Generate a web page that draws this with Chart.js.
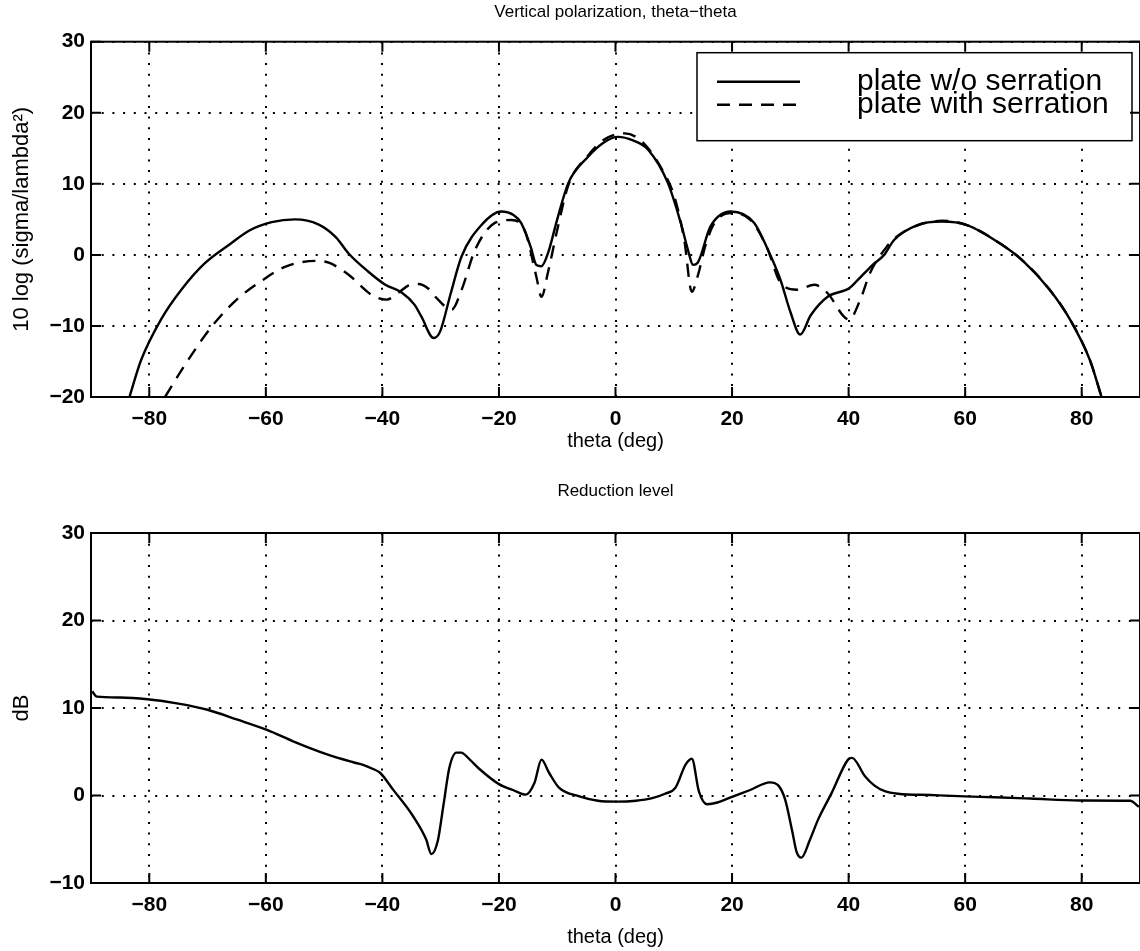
<!DOCTYPE html>
<html>
<head>
<meta charset="utf-8">
<title>Vertical polarization, theta-theta</title>
<script src="https://cdn.jsdelivr.net/npm/chart.js@4.4.1/dist/chart.umd.min.js"></script>
<style>
    html, body { margin: 0; padding: 0; background: #fff; overflow: hidden; }
    #top_box { position: absolute; left: 0; top: 0; width: 1140px; height: 476px; }
    #bottom_box { position: absolute; left: 0; top: 476px; width: 1140px; height: 475px; }
</style>
</head>
<body>
<div id="top_box"><canvas id="rcs_chart"></canvas></div>
<div id="bottom_box"><canvas id="reduction_chart"></canvas></div>
<script>
// values (theta in degrees)
var thetaPlain = [-83.4, -81.4, -78, -74.5, -70.5, -66, -62.9, -59, -55, -51, -48, -45.8, -42.5, -39.5, -36.7, -34.5, -33.3, -31.2, -30.1, -28.3, -26.4, -23, -19.6, -17.5, -16.2, -14.5, -13.6, -12.7, -11.6, -10, -8.1, -4.7, -2, 0.4, 3, 5.6, 9, 11.2, 12.5, 13.3, 14.1, 16.3, 19.8, 23.8, 26, 28.3, 30, 31.7, 33.5, 36.4, 40.1, 41.5, 44, 46.1, 47.8, 51.8, 56, 60.3, 66, 70, 74.5, 78, 81.4, 83.4];
var rcsPlain = [-20, -14.8, -9.1, -4.9, -1.2, 1.6, 3.4, 4.6, 5.0, 4.3, 2.5, 0.2, -2.3, -4.2, -5.3, -7.0, -8.7, -11.7, -10.8, -5.5, -0.2, 4.2, 6.1, 5.6, 4.5, 1.0, -1.4, -1.6, 0.2, 5, 10.1, 13.8, 15.8, 16.6, 16.1, 14.8, 10.1, 4.5, 0.5, -1.4, -1.1, 4.0, 6.1, 4.5, 1.0, -3.5, -8, -11.2, -8.5, -5.9, -4.7, -3.6, -1.5, 0, 2.1, 4.2, 4.7, 4.2, 1.6, -0.9, -4.9, -9.1, -14.8, -20];

var thetaSerrated = [-77.3, -73.5, -69.2, -65, -60.9, -56.6, -51.5, -49.2, -45.8, -41.9, -39.3, -37.2, -35.5, -33.8, -32.2, -30.9, -28.1, -26.4, -24.1, -20.7, -17.9, -15.5, -13.6, -12.7, -11.6, -10, -8.1, -4.7, -2, 1.6, 3.5, 5.6, 8, 10.1, 11.8, 13.1, 14.1, 15.5, 17, 19.8, 23.2, 26, 28.3, 31.2, 34.1, 36.4, 39.2, 40.1, 42, 43.7, 46.6, 48.3, 52, 56, 60.3, 66, 70, 74.5, 78, 81.4, 83.4];
var rcsSerrated = [-20, -15, -10, -6.3, -3.75, -1.65, -0.85, -1.1, -2.8, -5.6, -6.3, -5.3, -4.3, -4.1, -4.7, -5.9, -7.7, -4.9, 0.7, 4.5, 4.9, 3.3, -3.0, -5.9, -2.5, 3.5, 9.8, 14.0, 16.2, 17.1, 16.6, 15.0, 12, 8.2, 2.1, -5.2, -3.0, 1.5, 4.5, 5.9, 4.9, 1.0, -3.9, -4.9, -4.2, -5.4, -8.7, -9.1, -6.3, -2.5, 1.2, 2.6, 4.2, 4.8, 4.2, 1.6, -0.9, -4.9, -9.1, -14.8, -20];

var thetaReduction = [-89.8, -89, -85, -80.3, -75, -70, -65, -59.8, -55, -49.5, -45, -43.3, -41.5, -40.4, -38.2, -34.7, -32.5, -31.6, -30.5, -29.5, -28.5, -27.3, -26.5, -25, -23.3, -20, -17.5, -15.4, -13.9, -12.7, -11.4, -9.7, -6.2, -3, 0.3, 3.5, 6.3, 8.5, 10.3, 12, 13.1, 14.3, 15.7, 17.5, 20, 23, 26.5, 28, 29.1, 30.3, 31.1, 31.9, 33.4, 34.8, 37.1, 39.9, 40.6, 42.8, 44.5, 46.2, 48.5, 54, 59.9, 65, 71.2, 79.7, 88.3, 89.8];
var reduction = [11.9, 11.3, 11.2, 11.0, 10.5, 9.8, 8.7, 7.5, 6.1, 4.7, 3.8, 3.5, 3.0, 2.6, 0.7, -2.4, -5.0, -6.7, -5.2, -1.0, 3.2, 4.9, 4.9, 4.1, 3.0, 1.3, 0.6, 0.1, 1.45, 4.1, 2.6, 0.9, -0.1, -0.6, -0.7, -0.6, -0.3, 0.2, 0.9, 3.5, 4.2, 0.5, -1.0, -0.8, -0.15, 0.6, 1.5, 1.1, -0.45, -4, -6.5, -7.1, -5, -2.7, 0.3, 4.1, 4.3, 2.2, 1.1, 0.5, 0.2, 0.05, -0.1, -0.2, -0.35, -0.57, -0.6, -1.3];

var xTicks = [-80, -60, -40, -20, 0, 20, 40, 60, 80];
var xTickLabels = ['\u221280', '\u221260', '\u221240', '\u221220', '0', '20', '40', '60', '80'];
var rcsTicks = [-20, -10, 0, 10, 20, 30];
var rcsTickLabels = ['\u221220', '\u221210', '0', '10', '20', '30'];
var dbTicks = [-10, 0, 10, 20, 30];
var dbTickLabels = ['\u221210', '0', '10', '20', '30'];

var FONT = '"Liberation Sans", Arial, Helvetica, sans-serif';

function pairs(xs, ys) {
    var pts = [];
    for (var i = 0; i < xs.length; i++) {
        pts.push({x: xs[i], y: ys[i]});
    }
    return pts;
}

// matlab style box: full frame + inward ticks on all four sides
var matlabFrame = {
    id: 'matlabFrame',
    afterDraw: function (chart) {
        var ctx = chart.ctx, a = chart.chartArea;
        var x = chart.scales.x, y = chart.scales.y;
        var len = 10;
        ctx.save();
        ctx.strokeStyle = '#000';
        ctx.lineWidth = 2;
        ctx.setLineDash([]);
        ctx.strokeRect(a.left, a.top, a.right - a.left, a.bottom - a.top);
        ctx.beginPath();
        x.ticks.forEach(function (t) {
            var px = x.getPixelForValue(t.value);
            ctx.moveTo(px, a.bottom); ctx.lineTo(px, a.bottom - len);
            ctx.moveTo(px, a.top); ctx.lineTo(px, a.top + len);
        });
        y.ticks.forEach(function (t) {
            var py = y.getPixelForValue(t.value);
            ctx.moveTo(a.left, py); ctx.lineTo(a.left + len, py);
            ctx.moveTo(a.right, py); ctx.lineTo(a.right - len, py);
        });
        ctx.stroke();
        ctx.restore();
    }
};

// boxed legend in the upper right corner of the plot
var boxLegend = {
    id: 'boxLegend',
    afterDraw: function (chart, args, opts) {
        if (!opts.display) return;
        var ctx = chart.ctx, a = chart.chartArea;
        var left = a.right - opts.right - opts.width;
        var top = a.top + opts.top;
        ctx.save();
        ctx.fillStyle = '#fff';
        ctx.fillRect(left, top, opts.width, opts.height);
        ctx.strokeStyle = '#000';
        ctx.lineWidth = 1.5;
        ctx.strokeRect(left, top, opts.width, opts.height);
        ctx.font = opts.fontSize + 'px ' + FONT;
        ctx.fillStyle = '#000';
        ctx.textBaseline = 'alphabetic';
        chart.data.datasets.forEach(function (ds, i) {
            var yy = top + opts.firstRow + i * opts.rowGap;
            ctx.lineWidth = ds.borderWidth;
            ctx.setLineDash(ds.borderDash || []);
            ctx.beginPath();
            ctx.moveTo(left + 20, yy);
            ctx.lineTo(left + 103, yy);
            ctx.stroke();
            ctx.setLineDash([]);
            ctx.fillText(ds.label, left + 160, yy + 8);
        });
        ctx.restore();
    }
};

function getAxes(yMin, yMax, yTicks, yLabels, yTitle, xHeight, xTitlePad) {
    return {
        x: {
            type: 'linear',
            min: -90,
            max: 90,
            afterBuildTicks: function (scale) {
                scale.ticks = xTicks.map(function (v) { return {value: v}; });
            },
            afterFit: function (scale) { scale.height = xHeight; },
            grid: { color: '#000', lineWidth: 2, drawTicks: false },
            border: { display: false, dash: [2, 8.7] },
            ticks: {
                color: '#000',
                padding: 10,
                maxRotation: 0,
                font: { family: FONT, size: 21, weight: 'bold' },
                callback: function (value) { return xTickLabels[xTicks.indexOf(value)]; }
            },
            title: {
                display: true,
                text: 'theta (deg)',
                color: '#000',
                font: { family: FONT, size: 20 },
                padding: { top: 0, bottom: xTitlePad }
            }
        },
        y: {
            type: 'linear',
            min: yMin,
            max: yMax,
            afterBuildTicks: function (scale) {
                scale.ticks = yTicks.map(function (v) { return {value: v}; });
            },
            afterFit: function (scale) { scale.width = 91; },
            grid: { color: '#000', lineWidth: 2, drawTicks: false },
            border: { display: false, dash: [2, 8.7] },
            ticks: {
                color: '#000',
                padding: 6,
                font: { family: FONT, size: 21, weight: 'bold' },
                callback: function (value) { return yLabels[yTicks.indexOf(value)]; }
            },
            title: {
                display: true,
                text: yTitle,
                color: '#000',
                font: { family: FONT, size: 22 },
                padding: { top: 9, bottom: 0 }
            }
        }
    };
}

new Chart(document.getElementById('rcs_chart').getContext('2d'), {
    type: 'line',
    data: {
        datasets: [{
            label: 'plate w/o serration',
            data: pairs(thetaPlain, rcsPlain),
            borderColor: '#000',
            borderWidth: 2.4,
            pointRadius: 0,
            fill: false,
            cubicInterpolationMode: 'monotone'
        }, {
            label: 'plate with serration',
            data: pairs(thetaSerrated, rcsSerrated),
            borderColor: '#000',
            borderWidth: 2.4,
            borderDash: [13, 9],
            pointRadius: 0,
            fill: false,
            cubicInterpolationMode: 'monotone'
        }]
    },
    options: {
        responsive: true,
        maintainAspectRatio: false,
        animation: false,
        layout: { padding: 0 },
        scales: getAxes(-20, 30, rcsTicks, rcsTickLabels, '10 log (sigma/lambda\u00b2)', 79, 23),
        plugins: {
            legend: { display: false },
            tooltip: { enabled: false },
            title: {
                display: true,
                fullSize: false,
                text: 'Vertical polarization, theta\u2212theta',
                color: '#000',
                font: { family: FONT, size: 17, weight: 'normal' },
                padding: { top: 1.8, bottom: 19.5 }
            },
            boxLegend: { display: true, right: 8, top: 11, width: 435, height: 88, firstRow: 29, rowGap: 23, fontSize: 30 }
        }
    },
    plugins: [boxLegend, matlabFrame]
});

new Chart(document.getElementById('reduction_chart').getContext('2d'), {
    type: 'line',
    data: {
        datasets: [{
            label: 'Reduction level',
            data: pairs(thetaReduction, reduction),
            borderColor: '#000',
            borderWidth: 2.4,
            pointRadius: 0,
            fill: false,
            cubicInterpolationMode: 'monotone'
        }]
    },
    options: {
        responsive: true,
        maintainAspectRatio: false,
        animation: false,
        layout: { padding: 0 },
        scales: getAxes(-10, 30, dbTicks, dbTickLabels, 'dB', 68, 2),
        plugins: {
            legend: { display: false },
            tooltip: { enabled: false },
            title: {
                display: true,
                fullSize: false,
                text: 'Reduction level',
                color: '#000',
                font: { family: FONT, size: 17, weight: 'normal' },
                padding: { top: 4.8, bottom: 31.8 }
            },
            boxLegend: { display: false }
        }
    },
    plugins: [boxLegend, matlabFrame]
});
</script>
</body>
</html>
